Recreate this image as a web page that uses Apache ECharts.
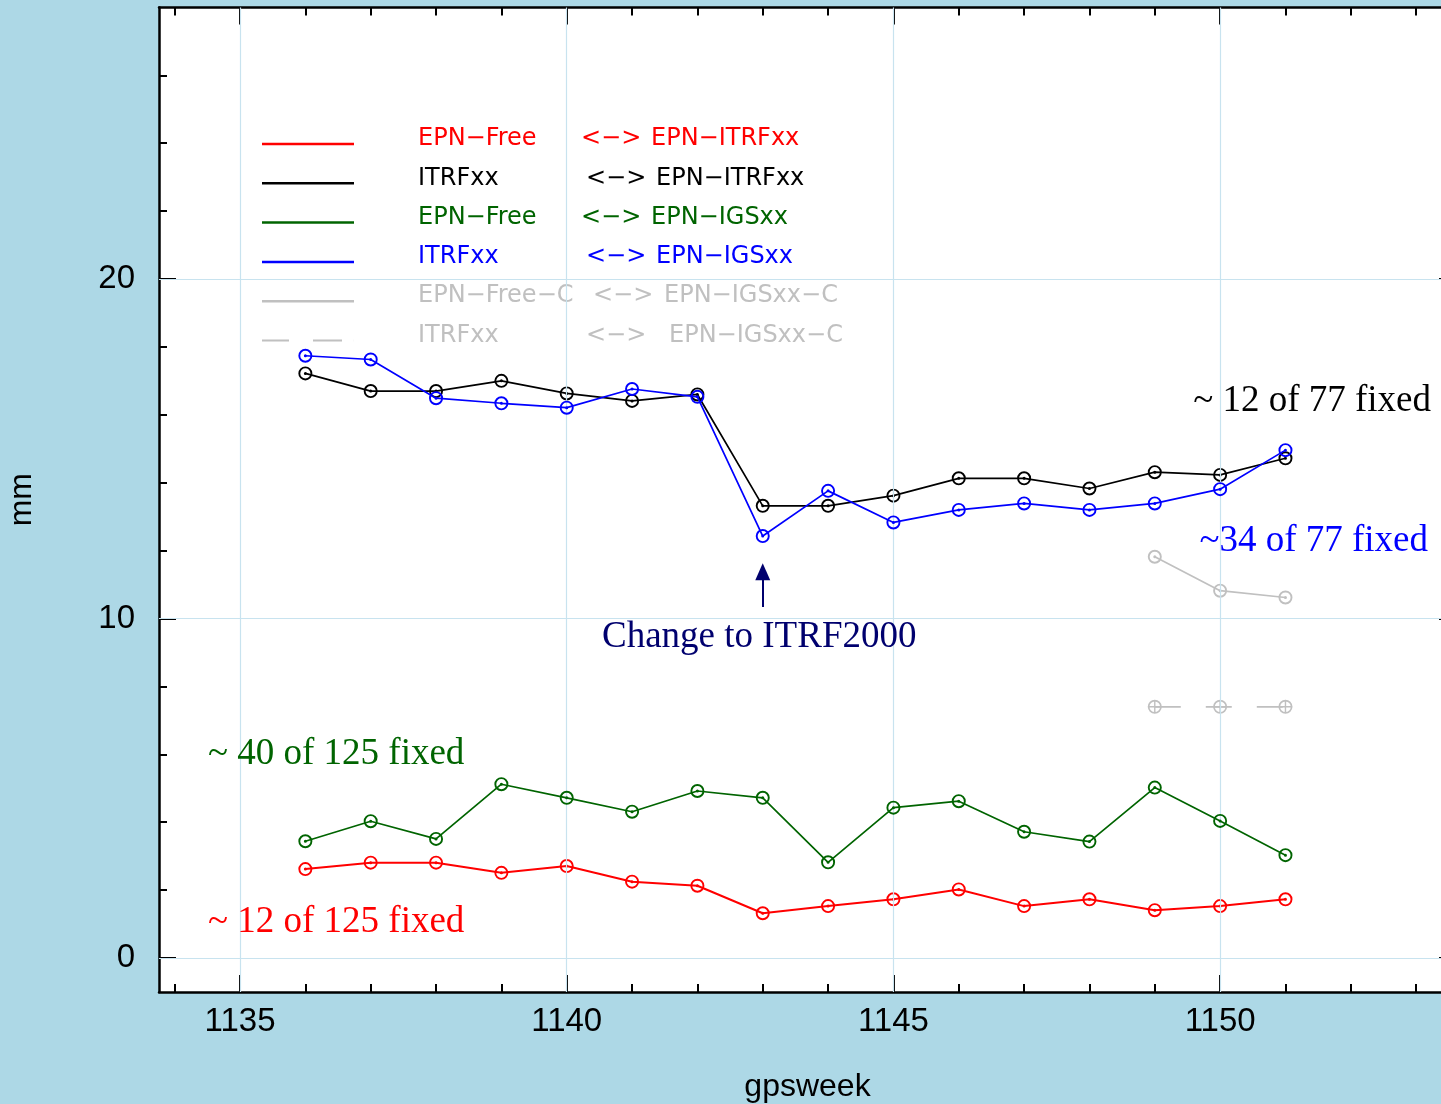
<!DOCTYPE html>
<html><head><meta charset="utf-8">
<script src="https://cdn.jsdelivr.net/npm/echarts@6/dist/echarts.min.js"></script>
<style>html,body{margin:0;padding:0;background:#add8e6}#c{width:1441px;height:1104px}</style>
</head><body><div id="c"></div><script>
// ---- data ----
const weeks = [1136,1137,1138,1139,1140,1141,1142,1143,1144,1145,1146,1147,1148,1149,1150,1151];
const redVals   = [2.62,2.81,2.81,2.51,2.71,2.25,2.13,1.32,1.53,1.73,2.02,1.53,1.73,1.41,1.53,1.73];
const blackVals = [17.22,16.70,16.70,17.00,16.63,16.41,16.60,13.32,13.32,13.62,14.13,14.13,13.83,14.31,14.23,14.72];
const greenVals = [3.44,4.03,3.51,5.12,4.72,4.31,4.92,4.72,2.82,4.43,4.62,3.72,3.43,5.02,4.04,3.03];
const blueVals  = [17.74,17.63,16.49,16.34,16.21,16.76,16.53,12.43,13.76,12.83,13.20,13.39,13.20,13.39,13.81,14.96];
const grayWeeks = [1149,1150,1151];
const graySolidVals = [11.82,10.82,10.62];
const grayDashVals  = [7.40,7.40,7.40];

const xMajorTicks = [1135,1140,1145,1150];
const xMinorTicks = [1134,1135,1136,1137,1138,1139,1140,1141,1142,1143,1144,1145,1146,1147,1148,1149,1150,1151,1152,1153];
const yMajorTicks = [0,10,20];
const yMinorTicks = [0,2,4,6,8,10,12,14,16,18,20,22,24,26];
const gridWeeks = [1135,1140,1145,1150];
const gridValues = [0,10,20];

const arrowWeek = 1143;
const arrowRange = [10.34, 11.38];

const seriesNames = [
  'EPN−Free <−> EPN−ITRFxx',
  'ITRFxx <−> EPN−ITRFxx',
  'EPN−Free <−> EPN−IGSxx',
  'ITRFxx <−> EPN−IGSxx',
  'EPN−Free−C <−> EPN−IGSxx−C',
  'ITRFxx <−> EPN−IGSxx−C (2)'
];
const legendLeftText  = ['EPN−Free','ITRFxx','EPN−Free','ITRFxx','EPN−Free−C','ITRFxx'];
const legendRightText = ['EPN−ITRFxx','EPN−ITRFxx','EPN−IGSxx','EPN−IGSxx','EPN−IGSxx−C','EPN−IGSxx−C'];

const X_MIN = 1133.76, X_MAX = 1153.61, Y_MIN = -1, Y_MAX = 28;

const C_RED = '#ff0000', C_BLACK = '#000000', C_GREEN = '#006400', C_BLUE = '#0000ff', C_GRAY = '#c0c0c0', C_NAVY = '#00006e';
const colors = [C_RED, C_BLACK, C_GREEN, C_BLUE, C_GRAY, C_GRAY];

const ring = 'path://M0,-7A7,7 0 1,1 0,7A7,7 0 1,1 0,-7Z M0,-5.1A5.1,5.1 0 1,0 0,5.1A5.1,5.1 0 1,0 0,-5.1Z M0,-1.5A1.5,1.5 0 1,1 0,1.5A1.5,1.5 0 1,1 0,-1.5Z';
const ringCross = 'path://M0,-7A7,7 0 1,1 0,7A7,7 0 1,1 0,-7Z M0,-5.3A5.3,5.3 0 1,0 0,5.3A5.3,5.3 0 1,0 0,-5.3Z M-7,-0.7h14v1.4h-14Z M-0.7,-7h1.4v14h-1.4Z';

const SANS = '"Liberation Sans", Arial, sans-serif';
const SERIF = '"Liberation Serif", "Times New Roman", serif';

function pairs(xs, ys){ return xs.map((x,i)=>[x, ys[i]]); }
function plain(v){ return String(Math.round(v)); }

function xAx(pos, ticks, len, showLine, withLabel){
  const a = {
    type:'value', position:pos, min:X_MIN, max:X_MAX,
    axisLine:{show:showLine, onZero:false, lineStyle:{color:'#000', width:2.5}},
    axisTick:{show:true, inside:true, length:len, customValues:ticks, lineStyle:{color:'#000', width:2}},
    axisLabel:{show:false},
    splitLine:{show:false}
  };
  if (withLabel){
    a.axisLabel = {show:true, customValues:xMajorTicks, formatter:plain, margin:13, color:'#000', fontFamily:SANS, fontSize:33};
    a.name = 'gpsweek'; a.nameLocation = 'middle'; a.nameGap = 79;
    a.nameTextStyle = {color:'#000', fontFamily:SANS, fontSize:32};
  }
  return a;
}
function yAx(pos, ticks, len, showLine, withLabel){
  const a = {
    type:'value', position:pos, min:Y_MIN, max:Y_MAX,
    axisLine:{show:showLine, onZero:false, lineStyle:{color:'#000', width:2.5}},
    axisTick:{show:true, inside:true, length:len, customValues:ticks, lineStyle:{color:'#000', width:2}},
    axisLabel:{show:false},
    splitLine:{show:false}
  };
  if (withLabel){
    a.axisLabel = {show:true, customValues:yMajorTicks, formatter:plain, margin:24, color:'#000', fontFamily:SANS, fontSize:33};
    a.name = 'mm'; a.nameLocation = 'middle'; a.nameGap = 121;
    a.nameTextStyle = {color:'#000', fontFamily:SANS, fontSize:32};
  }
  return a;
}

const valueSets = [redVals, blackVals, greenVals, blueVals];
const widths = [2, 1.7, 1.7, 1.7];
const series = [];

// light blue grid lines drawn through the axes' scales
series.push({
  type:'line', data:[], z:1, silent:true, animation:false,
  markLine:{silent:true, symbol:['none','none'], label:{show:false}, animation:false,
    lineStyle:{color:'#c8e3ef', width:1.2, type:'solid'},
    emphasis:{disabled:true},
    data: gridWeeks.map(w=>({xAxis:w})).concat(gridValues.map(v=>({yAxis:v})))
  }
});

valueSets.forEach((vals, i)=>{
  series.push({
    name: seriesNames[i], type:'line', data: pairs(weeks, vals), z:3+i,
    color: colors[i], symbol: ring, symbolSize: 14, showSymbol:true,
    lineStyle:{color:colors[i], width:widths[i]}, itemStyle:{color:colors[i]},
    emphasis:{disabled:true}, animation:false
  });
});
series.push({
  name: seriesNames[4], type:'line', data: pairs(grayWeeks, graySolidVals), z:3,
  color: C_GRAY, symbol: ring, symbolSize: 14,
  lineStyle:{color:C_GRAY, width:1.7}, itemStyle:{color:C_GRAY},
  emphasis:{disabled:true}, animation:false
});
series.push({
  name: seriesNames[5], type:'line', data: pairs(grayWeeks, grayDashVals), z:3,
  color: C_GRAY, symbol: ringCross, symbolSize: 14,
  lineStyle:{color:C_GRAY, width:1.7, type:[26,25]}, itemStyle:{color:C_GRAY},
  emphasis:{disabled:true}, animation:false
});
// arrow to the ITRF2000 change
series.push({
  type:'line', data:[], z:10, silent:true, animation:false,
  markLine:{silent:true, animation:false, label:{show:false}, emphasis:{disabled:true},
    symbol:['none','triangle'], symbolSize:[15,17],
    lineStyle:{color:C_NAVY, width:2, type:'solid'},
    data:[[{coord:[arrowWeek, arrowRange[0]]},{coord:[arrowWeek, arrowRange[1]]}]]
  }
});

const bW = [70,70,70,70,71,83];
const aW = [163,168,163,168,175,168];
const LFS = 24;
const rich = {};
for (let i=0;i<6;i++){
  rich['a'+i] = {width:aW[i], fontFamily:'DejaVu Sans', fontSize:LFS};
  rich['b'+i] = {width:bW[i], fontFamily:'DejaVu Sans', fontSize:LFS};
}
rich.c = {fontFamily:'DejaVu Sans', fontSize:LFS};

const dashIcon = 'path://M0,0h27v2h-27z M51,0h29v2h-29z M91.9,0h0.1v2h-0.1z';

const option = {
  backgroundColor:'#add8e6',
  animation:false,
  grid:{left:159, top:7.4, right:-15, bottom:112, show:true, backgroundColor:'#ffffff', borderWidth:0, containLabel:false, outerBoundsMode:'none'},
  xAxis:[
    xAx('bottom', xMajorTicks, 17, true, true),
    xAx('bottom', xMinorTicks, 8, false, false),
    xAx('top', xMajorTicks, 17, true, false),
    xAx('top', xMinorTicks, 8, false, false)
  ],
  yAxis:[
    yAx('left', yMajorTicks, 17, true, true),
    yAx('left', yMinorTicks, 8, false, false),
    yAx('right', yMajorTicks, 17, true, false),
    yAx('right', yMinorTicks, 8, false, false)
  ],
  legend:{
    orient:'vertical', left:262, top:127, padding:0, itemGap:5.3,
    itemWidth:92, itemHeight:2.5, selectedMode:false,
    textStyle:{fontFamily:'DejaVu Sans', fontSize:LFS, lineHeight:24, padding:[0,0,10,59], rich:rich},
    formatter:function(name){
      const i = seriesNames.indexOf(name);
      return '{a'+i+'|'+legendLeftText[i]+'}{b'+i+'|<−>}{c|'+legendRightText[i]+'}';
    },
    data: seriesNames.map((n,i)=>({name:n, icon: i===5 ? dashIcon : 'rect', textStyle:{color:colors[i]}}))
  },
  graphic:[
    {type:'text', x:1431, y:401, z:20, style:{text:'~ 12 of 77 fixed', font:'37px '+SERIF, fill:C_BLACK, align:'right', verticalAlign:'middle'}},
    {type:'text', x:1428, y:541, z:20, style:{text:'~34 of 77 fixed', font:'37px '+SERIF, fill:C_BLUE, align:'right', verticalAlign:'middle'}},
    {type:'text', x:602, y:637, z:20, style:{text:'Change to ITRF2000', font:'37px '+SERIF, fill:C_NAVY, align:'left', verticalAlign:'middle'}},
    {type:'text', x:208, y:754, z:20, style:{text:'~ 40 of 125 fixed', font:'37px '+SERIF, fill:C_GREEN, align:'left', verticalAlign:'middle'}},
    {type:'text', x:208, y:922, z:20, style:{text:'~ 12 of 125 fixed', font:'37px '+SERIF, fill:C_RED, align:'left', verticalAlign:'middle'}}
  ],
  series: series
};
const chart = echarts.init(document.getElementById('c'), null, {renderer:'canvas'});
chart.setOption(option);
</script></body></html>
